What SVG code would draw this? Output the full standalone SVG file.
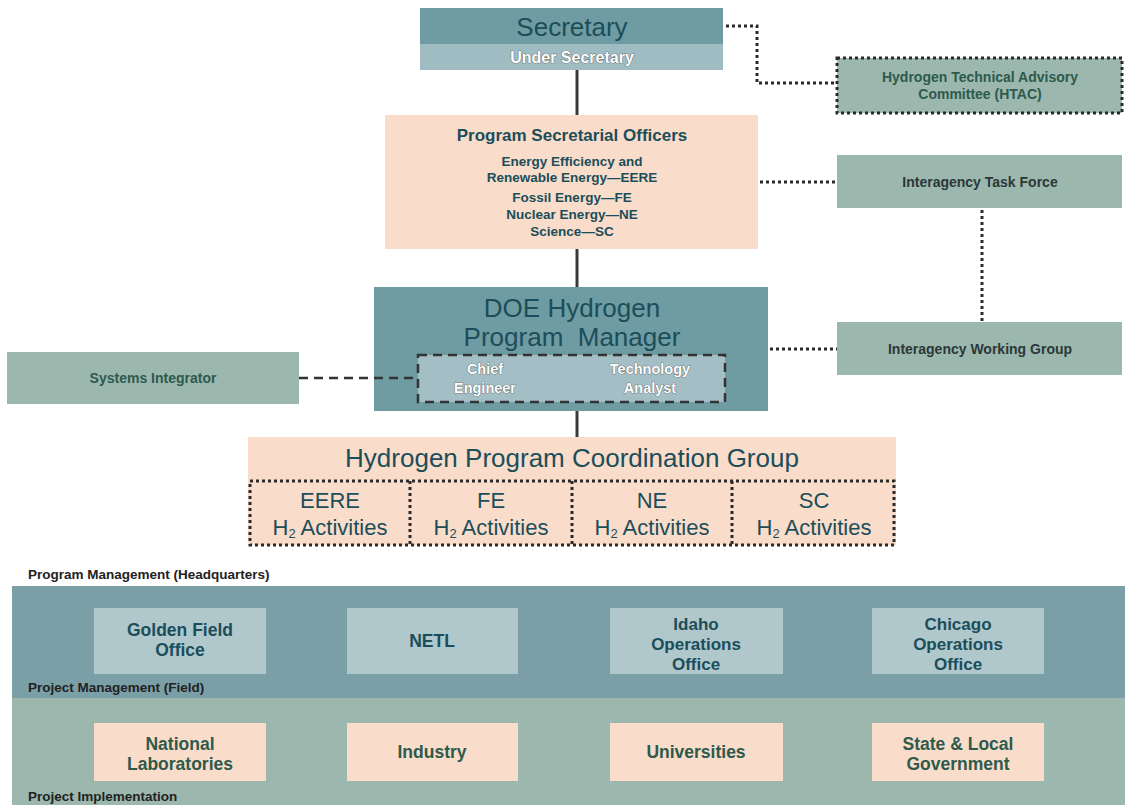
<svg xmlns="http://www.w3.org/2000/svg" width="1125" height="805" viewBox="0 0 1125 805">
<defs>
<style>
.t{font-family:"Liberation Sans",Arial,sans-serif;text-anchor:middle}
.b{font-weight:bold}
.teal{fill:#1b4e5a}
.grn{fill:#2d5a4c}
.dk{fill:#2b3838}
.wh{fill:#ffffff;stroke:#4a4a4a;stroke-width:0.7;paint-order:stroke}
.lbl{font-family:"Liberation Sans",Arial,sans-serif;font-weight:bold;font-size:13.5px;fill:#222}
.solid{stroke:#3a3a3a;stroke-width:3;fill:none}
.dot{stroke:#2a2a2a;stroke-width:3;stroke-dasharray:3 3;fill:none}
.dash{stroke:#333;stroke-width:2.5;stroke-dasharray:9 6;fill:none}
.side{fill:#9cb7ae}
.peach{fill:#f9dcc9}
.blue{fill:#6f9ba2}
.field{fill:#b0c7cb}
</style>
</defs>
<rect width="1125" height="805" fill="#ffffff"/>

<g id="secretary">
<rect x="420" y="8" width="303" height="36" class="blue"/>
<rect x="420" y="44" width="303" height="26" fill="#9fbcc2"/>
<text class="t teal" x="572" y="36" font-size="26">Secretary</text>
<text class="t b wh" x="572" y="63" font-size="16">Under Secretary</text>
</g>

<g id="htac">
<rect x="837" y="58" width="285" height="55" class="side"/>
<rect x="837" y="58" width="285" height="55" class="dot"/>
<text class="t b grn" x="980" y="82" font-size="14">Hydrogen Technical Advisory</text>
<text class="t b grn" x="980" y="99" font-size="14">Committee (HTAC)</text>
</g>

<g id="pso">
<rect x="385" y="115" width="373" height="134" class="peach"/>
<text class="t b teal" x="572" y="141" font-size="17">Program Secretarial Officers</text>
<text class="t b teal" x="572" y="166" font-size="13.5">Energy Efficiency and</text>
<text class="t b teal" x="572" y="181.5" font-size="13.5">Renewable Energy—EERE</text>
<text class="t b teal" x="572" y="202" font-size="13.5">Fossil Energy—FE</text>
<text class="t b teal" x="572" y="219" font-size="13.5">Nuclear Energy—NE</text>
<text class="t b teal" x="572" y="236" font-size="13.5">Science—SC</text>
</g>

<g id="itf">
<rect x="837" y="155" width="285" height="53" class="side"/>
<text class="t b dk" x="980" y="187" font-size="14">Interagency Task Force</text>
</g>

<g id="doe">
<rect x="374" y="287" width="394" height="124" class="blue"/>
<text class="t teal" x="572" y="317" font-size="26">DOE Hydrogen</text>
<text class="t teal" x="572" y="346" font-size="26" xml:space="preserve">Program  Manager</text>
<rect x="418" y="355" width="307" height="47" fill="#a3bec4"/>
<rect x="418" y="355" width="307" height="47" class="dash"/>
<text class="t b wh" x="485" y="374" font-size="14.5">Chief</text>
<text class="t b wh" x="485" y="393" font-size="14.5">Engineer</text>
<text class="t b wh" x="650" y="374" font-size="14.5">Technology</text>
<text class="t b wh" x="650" y="393" font-size="14.5">Analyst</text>
</g>

<g id="iwg">
<rect x="837" y="322" width="285" height="53" class="side"/>
<text class="t b dk" x="980" y="354" font-size="14">Interagency Working Group</text>
</g>

<g id="systems-integrator">
<rect x="7" y="352" width="292" height="52" class="side"/>
<text class="t b grn" x="153" y="383" font-size="14">Systems Integrator</text>
</g>

<g id="coordination">
<rect x="248" y="437" width="648" height="108" class="peach"/>
<text class="t teal" x="572" y="467" font-size="26">Hydrogen Program Coordination Group</text>
<rect x="250" y="481" width="644" height="64" class="dot"/>
<line class="dot" x1="410" y1="481" x2="410" y2="545"/>
<line class="dot" x1="572" y1="481" x2="572" y2="545"/>
<line class="dot" x1="732" y1="481" x2="732" y2="545"/>
<g class="t teal" font-size="22">
<text x="330" y="508">EERE</text>
<text x="330" y="535">H<tspan font-size="13" dy="3">2</tspan><tspan dy="-3"> Activities</tspan></text>
<text x="491" y="508">FE</text>
<text x="491" y="535">H<tspan font-size="13" dy="3">2</tspan><tspan dy="-3"> Activities</tspan></text>
<text x="652" y="508">NE</text>
<text x="652" y="535">H<tspan font-size="13" dy="3">2</tspan><tspan dy="-3"> Activities</tspan></text>
<text x="814" y="508">SC</text>
<text x="814" y="535">H<tspan font-size="13" dy="3">2</tspan><tspan dy="-3"> Activities</tspan></text>
</g>
</g>

<g id="connectors">
<line class="solid" x1="577" y1="70" x2="577" y2="115"/>
<line class="solid" x1="577" y1="249" x2="577" y2="287"/>
<line class="solid" x1="577" y1="411" x2="577" y2="437"/>
<polyline class="dot" points="726,26 757,26 757,83 837,83"/>
<line class="dot" x1="760" y1="182" x2="837" y2="182"/>
<line class="dot" x1="770" y1="349" x2="837" y2="349"/>
<line class="dot" x1="982" y1="210" x2="982" y2="322"/>
<line class="dash" x1="299" y1="378" x2="418" y2="378"/>
</g>

<g id="bands">
<text class="lbl" x="28" y="579">Program Management (Headquarters)</text>
<rect x="12" y="586" width="1113" height="112" fill="#7a9fa7"/>
<rect x="12" y="698" width="1113" height="107" fill="#9bb7ae"/>
<text class="lbl" x="28" y="692">Project Management (Field)</text>
<text class="lbl" x="28" y="801">Project Implementation</text>
</g>

<g id="golden">
<rect x="94" y="608" width="172" height="66" class="field"/>
<text class="t b teal" x="180" y="636" font-size="17.5">Golden Field</text>
<text class="t b teal" x="180" y="656" font-size="17.5">Office</text>
</g>
<g id="netl">
<rect x="347" y="608" width="171" height="66" class="field"/>
<text class="t b teal" x="432" y="647" font-size="17.5">NETL</text>
</g>
<g id="idaho">
<rect x="610" y="608" width="173" height="66" class="field"/>
<text class="t b teal" x="696" y="630" font-size="17">Idaho</text>
<text class="t b teal" x="696" y="650" font-size="17">Operations</text>
<text class="t b teal" x="696" y="670" font-size="17">Office</text>
</g>
<g id="chicago">
<rect x="872" y="608" width="172" height="66" class="field"/>
<text class="t b teal" x="958" y="630" font-size="17">Chicago</text>
<text class="t b teal" x="958" y="650" font-size="17">Operations</text>
<text class="t b teal" x="958" y="670" font-size="17">Office</text>
</g>

<g id="national-labs">
<rect x="94" y="723" width="172" height="58" class="peach"/>
<text class="t b grn" x="180" y="750" font-size="17.5">National</text>
<text class="t b grn" x="180" y="770" font-size="17.5">Laboratories</text>
</g>
<g id="industry">
<rect x="347" y="723" width="171" height="58" class="peach"/>
<text class="t b grn" x="432" y="758" font-size="17.5">Industry</text>
</g>
<g id="universities">
<rect x="610" y="723" width="173" height="58" class="peach"/>
<text class="t b grn" x="696" y="758" font-size="17.5">Universities</text>
</g>
<g id="state-local">
<rect x="872" y="723" width="172" height="58" class="peach"/>
<text class="t b grn" x="958" y="750" font-size="17.5">State &amp; Local</text>
<text class="t b grn" x="958" y="770" font-size="17.5">Government</text>
</g>
</svg>
